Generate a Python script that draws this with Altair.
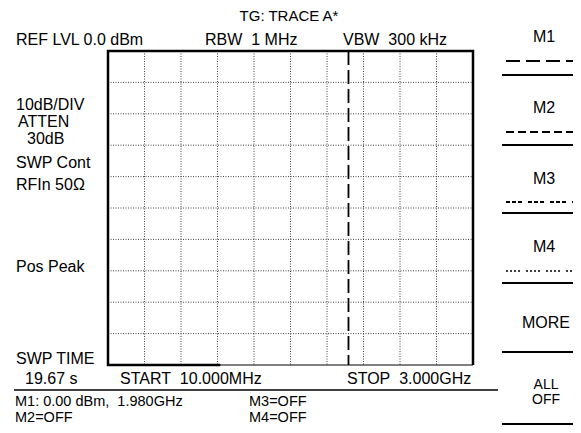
import altair as alt
import pandas as pd

# ---- data ----
f_start, f_stop = 10.0, 3000.0          # MHz
ref_level, bottom_level = 0.0, -100.0   # dBm (10 dB/div)
grid_freq = [10 + 299 * i for i in range(1, 10)]
grid_level = [-10 * i for i in range(1, 10)]

trace_freq = [930, 10, 10, 3000, 3000]
trace_level = [-100, -100, 0, 0, -100]

marker_freq = [1980]

W, H = 365, 314
PL, PT = 100, 43
OX, OY = 108, 51   # page position of plot origin

FONT = "Liberation Sans"
FS = 16
NB = "\u00a0"

trace_df = pd.DataFrame({"freq": trace_freq, "level": trace_level, "i": range(len(trace_freq))})
marker_df = pd.DataFrame({"freq": marker_freq, "top": [ref_level], "bot": [bottom_level]})
vgrid_df = pd.DataFrame({"freq": grid_freq, "top": ref_level, "bot": bottom_level})
hgrid_df = pd.DataFrame({"level": grid_level, "f0": f_start, "f1": f_stop})

xs = alt.Scale(domain=[f_start, f_stop], nice=False, zero=False)
ys = alt.Scale(domain=[bottom_level, ref_level], nice=False, zero=False)

GRID = dict(color="#222", strokeWidth=1, strokeDash=[1, 1.5], opacity=0.85)

vgrid = alt.Chart(vgrid_df).mark_rule(**GRID).encode(
    x=alt.X("freq:Q", scale=xs, axis=None), y=alt.Y("top:Q", scale=ys, axis=None), y2="bot:Q")
hgrid = alt.Chart(hgrid_df).mark_rule(**GRID).encode(
    y=alt.Y("level:Q", scale=ys, axis=None), x=alt.X("f0:Q", scale=xs, axis=None), x2="f1:Q")

trace = alt.Chart(trace_df).mark_line(color="black", strokeWidth=2.5, strokeJoin="miter").encode(
    x=alt.X("freq:Q", scale=xs, axis=None),
    y=alt.Y("level:Q", scale=ys, axis=None),
    order="i:Q",
)

frame = alt.Chart(pd.DataFrame({"a": [0]})).mark_rect(fill=None, stroke="black", strokeWidth=1).encode(
    x=alt.value(0), x2=alt.value(W), y=alt.value(0), y2=alt.value(H))

marker = alt.Chart(marker_df).mark_rule(color="black", strokeWidth=1.8, strokeDash=[14, 5]).encode(
    x=alt.X("freq:Q", scale=xs, axis=None), y=alt.Y("top:Q", scale=ys, axis=None), y2="bot:Q")

layers = [vgrid, hgrid, trace, frame, marker]


def txt(s, px, py, align="left", fs=FS):
    return alt.Chart(pd.DataFrame({"t": [s]})).mark_text(
        font=FONT, fontSize=fs, align=align, baseline="middle", color="black").encode(
        text="t:N", x=alt.value(px - OX), y=alt.value(py - OY))


def hline(x1, x2, py, dash=None, w=2):
    kw = dict(color="black", strokeWidth=w)
    if dash:
        kw["strokeDash"] = dash
    return alt.Chart(pd.DataFrame({"a": [0]})).mark_rule(**kw).encode(
        x=alt.value(x1 - OX), x2=alt.value(x2 - OX), y=alt.value(py - OY))


labels = [
    ("TG: TRACE A*", 289, 16, "center", 15),
    ("REF LVL 0.0 dBm", 16, 40, "left", FS),
    ("RBW" + NB + NB + "1 MHz", 205, 40, "left", FS),
    ("VBW" + NB + NB + "300 kHz", 343, 40, "left", FS),
    ("10dB/DIV", 16, 105, "left", FS),
    ("ATTEN", 18, 122, "left", FS),
    ("30dB", 27, 138.5, "left", FS),
    ("SWP Cont", 16, 163, "left", FS),
    ("RFIn 50Ω", 16, 185, "left", FS),
    ("Pos Peak", 16, 267, "left", FS),
    ("SWP TIME", 16, 359, "left", FS),
    ("19.67 s", 25, 379, "left", FS),
    ("START" + NB + NB + "10.000MHz", 120, 379, "left", FS),
    ("STOP" + NB + NB + "3.000GHz", 347, 379, "left", FS),
    ("M1: 0.00 dBm," + NB + NB + "1.980GHz", 15, 401.5, "left", 14.5),
    ("M2=OFF", 15, 418, "left", 14.5),
    ("M3=OFF", 249, 401.5, "left", 14.5),
    ("M4=OFF", 249, 418, "left", 14.5),
    ("M1", 544, 37, "center", FS),
    ("M2", 544, 108, "center", FS),
    ("M3", 544, 179, "center", FS),
    ("M4", 544, 247, "center", FS),
    ("MORE", 546, 323, "center", FS),
    ("ALL", 546, 385, "center", 14),
    ("OFF", 546, 400, "center", 14),
]
for s, px, py, al, fs in labels:
    layers.append(txt(s, px, py, al, fs))

R = 573
layers += [
    hline(14, 498, 390, w=1.5),
    hline(506, R, 61, dash=[14, 6]),
    hline(502, R, 75),
    hline(506, R, 132, dash=[8, 4]),
    hline(502, R, 145),
    hline(506, R, 202, dash=[4, 2, 4, 2, 4, 6]),
    hline(502, R, 213),
    hline(506, R, 271, dash=[2, 2, 2, 2, 2, 2, 2, 6], w=1.5),
    hline(502, R, 283),
    hline(502, R, 352),
    hline(502, R, 424),
]

chart = alt.layer(*layers).properties(
    width=W, height=H,
    padding={"left": PL, "top": PT, "right": 565 - PL - W, "bottom": 417 - PT - H},
    autosize=alt.AutoSizeParams(type="none"),
    background="white",
).configure_view(stroke=None)

chart.save("out.html", embed_options={"renderer": "svg", "actions": False})
